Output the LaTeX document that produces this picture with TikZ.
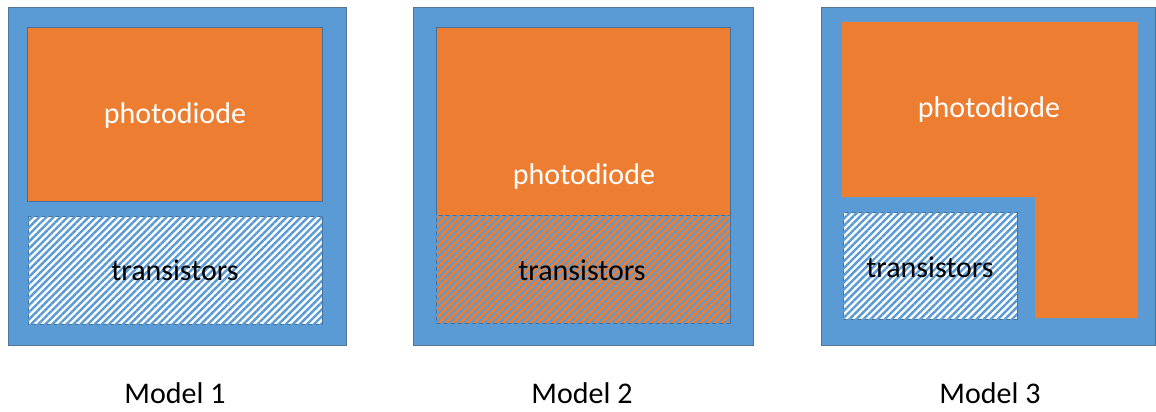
\documentclass[tikz,border=0pt]{standalone}
\usepackage{fontspec}
\setmainfont{Carlito}
\usepackage{tikz}
\usetikzlibrary{patterns.meta}

\definecolor{chipblue}{HTML}{5B9BD5}
\definecolor{chipedge}{HTML}{41719C}
\definecolor{pdorange}{HTML}{ED7D31}

\begin{document}
\begin{tikzpicture}[
  x=1pt, y=-1pt,
  chip/.style={fill=chipblue, draw=chipedge!70!gray, line width=0.8pt},
  pd/.style={fill=pdorange, draw=chipedge, line width=0.8pt},
  pdflat/.style={fill=pdorange},
  tr/.style={fill=white, draw=chipedge, line width=0.8pt,
             postaction={pattern={Lines[angle=45, distance=5pt, line width=2.4pt]},
                         pattern color=chipblue}},
  trmix/.style={fill=pdorange, draw=chipedge, line width=0.8pt,
             postaction={pattern={Lines[angle=45, distance=5pt, line width=2pt]},
                         pattern color=chipblue}},
  pdtext/.style={font=\fontsize{30}{36}\selectfont, text=white},
  trtext/.style={font=\fontsize{30}{36}\selectfont, text=black},
  label/.style={font=\fontsize{30}{36}\selectfont, text=black},
]
  \useasboundingbox (0,0) rectangle (1156,412);

  % Model 1: photodiode above, transistors below
  \draw[chip] (8,7) rectangle (346,345);
  \draw[pd] (27,27) rectangle (322,201);
  \draw[tr] (28,216) rectangle (322,324);
  \node[pdtext] (pd1) at (175,116) {photodiode};
  \node[trtext] (tr1) at (175,270) {transistors};
  \node[label] (m1) at (175,393) {Model 1};

  % Model 2: photodiode over the transistors
  \draw[chip] (413,7) rectangle (753,345);
  \draw[pd] (436,27) rectangle (730,215);
  \draw[trmix] (436,215) rectangle (730,323);
  \node[pdtext] (pd2) at (584,177) {photodiode};
  \node[trtext] (tr2) at (582,270) {transistors};
  \node[label] (m2) at (582,393) {Model 2};

  % Model 3: L-shaped photodiode round the transistors
  \draw[chip] (821,7) rectangle (1155.5,345);
  \fill[pdflat] (842,22) -- (1138,22) -- (1138,318) -- (1035,318)
    -- (1035,197) -- (842,197) -- cycle;
  \draw[tr] (843,212) rectangle (1017,319);
  \node[pdtext] (pd3) at (989,110) {photodiode};
  \node[trtext] (tr3) at (930,267) {transistors};
  \node[label] (m3) at (990,393) {Model 3};
\end{tikzpicture}
\end{document}
